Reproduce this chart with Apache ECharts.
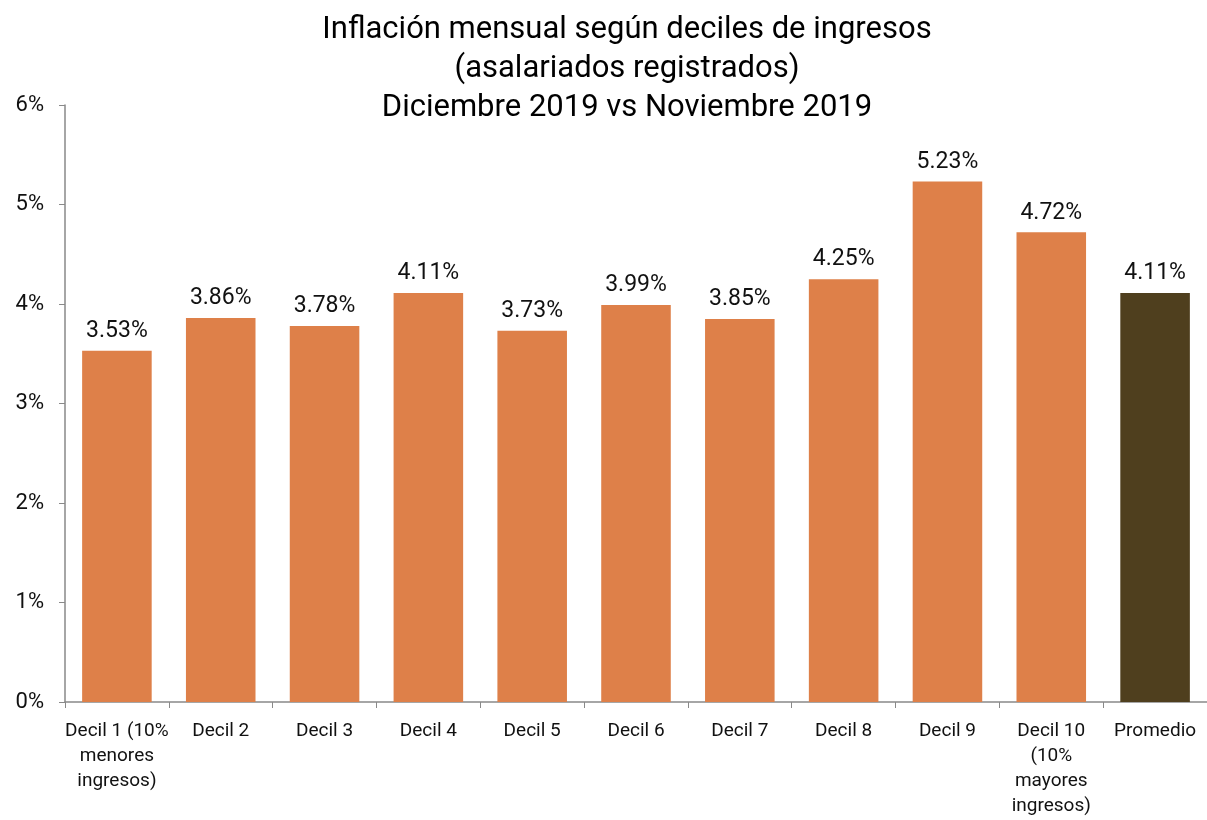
<!DOCTYPE html>
<html>
<head>
<meta charset="utf-8">
<script src="https://cdn.jsdelivr.net/npm/echarts@6/dist/echarts.min.js"></script>
<style>
  html, body { margin: 0; padding: 0; background: #fff; }
  #chart { width: 1207px; height: 820px; }
</style>
</head>
<body>
<div id="chart"></div>
<script>
var categories = ['Decil 1 (10%\nmenores\ningresos)', 'Decil 2', 'Decil 3', 'Decil 4', 'Decil 5',
  'Decil 6', 'Decil 7', 'Decil 8', 'Decil 9', 'Decil 10\n(10%\nmayores\ningresos)', 'Promedio'];
var values = [3.53, 3.86, 3.78, 4.11, 3.73, 3.99, 3.85, 4.25, 5.23, 4.72, 4.11];
var barColors = ['#DE8049', '#DE8049', '#DE8049', '#DE8049', '#DE8049', '#DE8049',
  '#DE8049', '#DE8049', '#DE8049', '#DE8049', '#4F3F1E'];

var font = "'Roboto', sans-serif";
var chart = echarts.init(document.getElementById('chart'));

var option = {
  animation: false,
  title: {
    text: 'Inflación mensual según deciles de ingresos\n(asalariados registrados)\nDiciembre 2019 vs Noviembre 2019',
    left: 622,
    textAlign: 'center',
    top: 6,
    textStyle: {
      fontFamily: font,
      fontSize: 31,
      fontWeight: 'normal',
      color: '#000',
      lineHeight: 39
    }
  },
  grid: {
    left: 65,
    right: -2,
    top: 105,
    bottom: 118
  },
  xAxis: {
    type: 'category',
    data: categories,
    axisLine: { lineStyle: { color: '#898989', width: 1.5 } },
    axisTick: { show: true, length: 6, lineStyle: { color: '#898989' } },
    axisLabel: {
      fontFamily: font,
      fontSize: 19,
      color: '#111',
      margin: 17,
      lineHeight: 25,
      interval: 0
    }
  },
  yAxis: {
    type: 'value',
    min: 0,
    max: 6,
    interval: 1,
    splitLine: { show: false },
    axisLine: { show: true, lineStyle: { color: '#898989', width: 1.5 } },
    axisTick: { show: true, length: 6, lineStyle: { color: '#898989' } },
    axisLabel: {
      fontFamily: font,
      fontSize: 22,
      color: '#111',
      margin: 21,
      formatter: '{value}%'
    }
  },
  series: [{
    type: 'bar',
    data: values.map(function (v, i) {
      return { value: v, itemStyle: { color: barColors[i] } };
    }),
    barCategoryGap: '33%',
    label: {
      show: true,
      position: 'top',
      distance: 8,
      fontFamily: font,
      fontSize: 23,
      color: '#111',
      formatter: function (p) { return p.value.toFixed(2) + '%'; }
    }
  }]
};
chart.setOption(option);
</script>
</body>
</html>
